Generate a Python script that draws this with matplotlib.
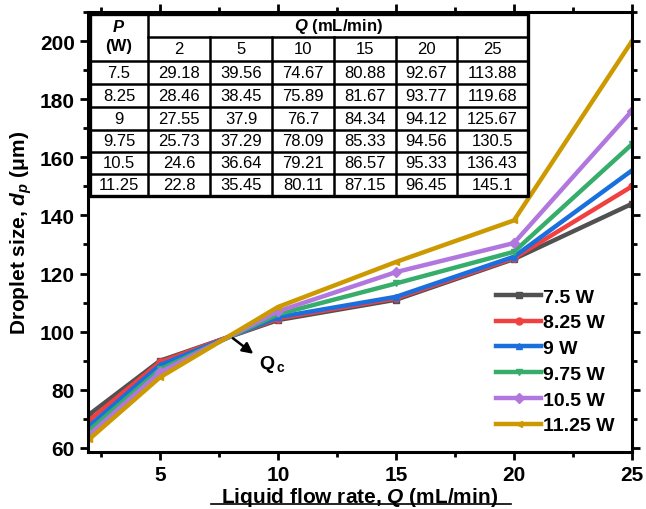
import numpy as np
import matplotlib.pyplot as plt
from matplotlib.ticker import MultipleLocator

plt.rcParams['font.family'] = ['Liberation Sans', 'DejaVu Sans']
plt.rcParams['mathtext.fontset'] = 'custom'
plt.rcParams['mathtext.it'] = 'Liberation Sans:italic:bold'
plt.rcParams['mathtext.rm'] = 'Liberation Sans:bold'

# plotted curves
flow_rate = [2, 5, 10, 15, 20, 25]
labels = ['7.5 W', '8.25 W', '9 W', '9.75 W', '10.5 W', '11.25 W']
d_7_5 = [71.5, 90.0, 104.0, 111.0, 125.0, 144.0]
d_8_25 = [69.5, 89.5, 104.5, 111.5, 125.3, 150.0]
d_9 = [67.5, 88.5, 105.0, 112.0, 125.8, 155.5]
d_9_75 = [66.0, 87.0, 106.0, 116.6, 127.5, 164.5]
d_10_5 = [64.5, 86.0, 107.0, 120.5, 130.5, 176.0]
d_11_25 = [63.0, 84.3, 108.5, 124.0, 138.3, 200.0]
series = [d_7_5, d_8_25, d_9, d_9_75, d_10_5, d_11_25]

colors = ['#515151', '#F14040', '#1A6FDF', '#37AD6B', '#B177DE', '#CC9900']
markers = ['s', 'o', '^', 'v', 'D', '<']

# inset table
table_p = ['7.5', '8.25', '9', '9.75', '10.5', '11.25']
table_q = ['2', '5', '10', '15', '20', '25']
table_vals = [
    ['29.18', '39.56', '74.67', '80.88', '92.67', '113.88'],
    ['28.46', '38.45', '75.89', '81.67', '93.77', '119.68'],
    ['27.55', '37.9', '76.7', '84.34', '94.12', '125.67'],
    ['25.73', '37.29', '78.09', '85.33', '94.56', '130.5'],
    ['24.6', '36.64', '79.21', '86.57', '95.33', '136.43'],
    ['22.8', '35.45', '80.11', '87.15', '96.45', '145.1'],
]

W, H = 646, 510
fig = plt.figure(figsize=(W / 100, H / 100), dpi=100)
ax = fig.add_axes((88 / W, 1 - 453 / H, (632 - 88) / W, (453 - 13) / H))

for vals, lab, c, m in zip(series, labels, colors, markers):
    ax.plot(flow_rate, vals, color=c, lw=3.2, marker=m, ms=5, label=lab)

ax.set_xlim(1.95, 25)
ax.set_ylim(58.6, 210)
ax.xaxis.set_major_locator(MultipleLocator(5))
ax.xaxis.set_minor_locator(MultipleLocator(2.5))
ax.yaxis.set_major_locator(MultipleLocator(20))
ax.yaxis.set_minor_locator(MultipleLocator(10))
ax.tick_params(which='both', direction='out', width=2, top=True, right=True,
               labeltop=False, labelright=False)
ax.tick_params(which='major', length=6, labelsize=15)
ax.tick_params(which='minor', length=3.5)
for lab in ax.get_xticklabels() + ax.get_yticklabels():
    lab.set_fontweight('bold')
for sp in ax.spines.values():
    sp.set_linewidth(2.2)

ax.set_xlabel('Liquid flow rate, $Q$ (mL/min)', fontsize=15, fontweight='bold',
              labelpad=0.5)
ax.set_ylabel('Droplet size, $d_p$ ($\\mathrm{\\mu}$m)', fontsize=15,
              fontweight='bold', labelpad=4)

ax.annotate('', xy=(9.05, 91.8), xytext=(8.0, 98.3),
            arrowprops=dict(arrowstyle='-|>', color='black', lw=1.8,
                            mutation_scale=16))
ax.text(9.2, 89, 'Q', fontsize=14, fontweight='bold', va='center', ha='left')
ax.text(9.95, 87.8, 'c', fontsize=10, fontweight='bold', va='center', ha='left')

leg = ax.legend(loc='lower right', frameon=False, handlelength=2.3,
                handletextpad=0.1, labelspacing=0.42, borderaxespad=0.5,
                prop={'weight': 'bold', 'size': 14})

# table drawn in pixel coordinates on an overlay
tab = fig.add_axes((0, 0, 1, 1))
tab.set_xlim(0, W)
tab.set_ylim(H, 0)
tab.axis('off')
xs = [90, 148, 210, 272, 334, 396, 457, 528]
ys = [15, 38, 62, 85, 108, 131, 153, 175, 197]
tab.fill_between([xs[0], xs[-1]], ys[0], ys[-1], color='white', zorder=1)
lw = 1.8
tab.plot([xs[0], xs[-1], xs[-1], xs[0], xs[0]],
         [ys[0], ys[0], ys[-1], ys[-1], ys[0]], color='black', lw=2.4, zorder=3)
for x in xs[1:-1]:
    tab.plot([x, x], [ys[1] if x != xs[1] else ys[0], ys[-1]], color='black', lw=lw, zorder=3)
tab.plot([xs[1], xs[-1]], [ys[1], ys[1]], color='black', lw=lw, zorder=3)
for y in ys[2:-1]:
    tab.plot([xs[0], xs[-1]], [y, y], color='black', lw=lw, zorder=3)

tab.text((xs[0] + xs[1]) / 2, 27, '$P$', fontsize=12, ha='center', va='center', zorder=4)
tab.text((xs[0] + xs[1]) / 2, 47, '(W)', fontsize=12, fontweight='bold',
         ha='center', va='center', zorder=4)
tab.text((xs[1] + xs[-1]) / 2, 27, '$Q$ (mL/min)', fontsize=12, fontweight='bold',
         ha='center', va='center', zorder=4)
for j, q in enumerate(table_q):
    tab.text((xs[j + 1] + xs[j + 2]) / 2, (ys[1] + ys[2]) / 2, q, fontsize=12,
             ha='center', va='center', zorder=4)
for i, p in enumerate(table_p):
    yc = (ys[i + 2] + ys[i + 3]) / 2
    tab.text((xs[0] + xs[1]) / 2, yc, p, fontsize=12, ha='center', va='center', zorder=4)
    for j, v in enumerate(table_vals[i]):
        tab.text((xs[j + 1] + xs[j + 2]) / 2, yc, v, fontsize=12,
                 ha='center', va='center', zorder=4)

# underline of the x label as in the source
tab.plot([211, 511], [505, 505], color='black', lw=1.2)

fig.savefig('out.png', dpi=100)
